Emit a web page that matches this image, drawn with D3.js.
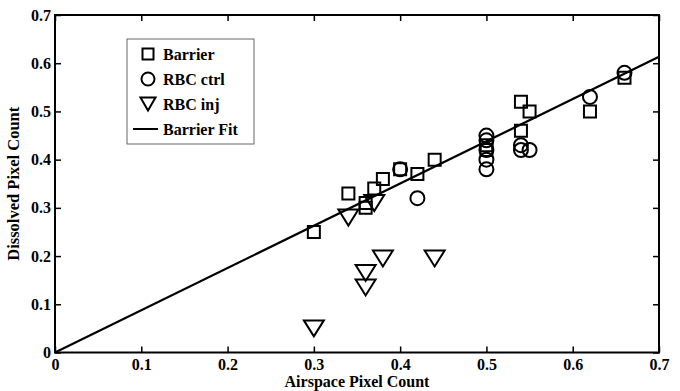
<!DOCTYPE html>
<html>
<head>
<meta charset="utf-8">
<script src="https://cdnjs.cloudflare.com/ajax/libs/d3/7.8.5/d3.min.js"></script>
<style>
  body { margin: 0; background: #fff; }
  text { font-family: "Liberation Serif", "Times New Roman", serif; font-weight: bold; }
</style>
</head>
<body>
<div id="chart"></div>
<script>
// chart size
var width = 680,
    height = 391;

var margin = { top: 15, right: 21, bottom: 38.5, left: 55 };

// tick values for both axes
var xTicks = [0, 0.1, 0.2, 0.3, 0.4, 0.5, 0.6, 0.7];
var yTicks = [0, 0.1, 0.2, 0.3, 0.4, 0.5, 0.6, 0.7];

// Barrier (squares)
var barrierX = [0.30, 0.34, 0.36, 0.36, 0.37, 0.38, 0.40, 0.42, 0.44, 0.50, 0.50, 0.54, 0.55, 0.54, 0.62, 0.66];
var barrierY = [0.25, 0.33, 0.30, 0.31, 0.34, 0.36, 0.38, 0.37, 0.40, 0.43, 0.42, 0.52, 0.50, 0.46, 0.50, 0.57];

// RBC ctrl (circles)
var ctrlX = [0.40, 0.42, 0.50, 0.50, 0.50, 0.50, 0.50, 0.54, 0.54, 0.55, 0.62, 0.66];
var ctrlY = [0.38, 0.32, 0.45, 0.44, 0.42, 0.40, 0.38, 0.43, 0.42, 0.42, 0.53, 0.58];

// RBC inj (triangles)
var injX = [0.30, 0.34, 0.36, 0.36, 0.37, 0.38, 0.44];
var injY = [0.05, 0.28, 0.165, 0.135, 0.31, 0.195, 0.195];

// Barrier fit, through the origin
var fitSlope = 0.876;

var legendItems = ["Barrier", "RBC ctrl", "RBC inj", "Barrier Fit"];

var svg = d3.select("#chart")
    .append("svg")
    .attr("width", width)
    .attr("height", height);

var w = width - margin.left - margin.right,
    h = height - margin.top - margin.bottom;

var g = svg.append("g")
    .attr("transform", "translate(" + margin.left + "," + margin.top + ")");

var x = d3.scaleLinear().domain([0, 0.7]).range([0, w]);
var y = d3.scaleLinear().domain([0, 0.7]).range([h, 0]);

var fmt = function(d) { return d === 0 ? "0" : d.toFixed(1); };

// axes with inward ticks
var xAxis = g.append("g")
    .attr("transform", "translate(0," + h + ")")
    .call(d3.axisBottom(x).tickValues(xTicks).tickFormat(fmt).tickSize(-6).tickSizeOuter(0).tickPadding(6));
var yAxis = g.append("g")
    .call(d3.axisLeft(y).tickValues(yTicks).tickFormat(fmt).tickSize(-6).tickSizeOuter(0).tickPadding(4));
// top and right ticks without labels
g.append("g")
    .call(d3.axisTop(x).tickValues(xTicks).tickFormat("").tickSize(-6).tickSizeOuter(0));
g.append("g")
    .attr("transform", "translate(" + w + ",0)")
    .call(d3.axisRight(y).tickValues(yTicks).tickFormat("").tickSize(-6).tickSizeOuter(0));

g.selectAll(".domain").remove();
g.selectAll(".tick line").attr("stroke", "#000").attr("stroke-width", 1.5);
g.selectAll(".tick text").attr("font-size", "16px").attr("fill", "#000")
    .attr("font-family", "Liberation Serif, Times New Roman, serif").attr("font-weight", "bold");

// frame
g.append("rect")
    .attr("width", w)
    .attr("height", h)
    .attr("fill", "none")
    .attr("stroke", "#000")
    .attr("stroke-width", 2);

// fit line
g.append("line")
    .attr("x1", x(0)).attr("y1", y(0))
    .attr("x2", x(0.7)).attr("y2", y(0.7 * fitSlope))
    .attr("stroke", "#000")
    .attr("stroke-width", 2.2);

// marker shapes
function squarePath(s) {
    var r = s / 2;
    return "M" + (-r) + "," + (-r) + "H" + r + "V" + r + "H" + (-r) + "Z";
}
function triPath(wd, ht) {
    return "M" + (-wd / 2) + "," + (-ht / 2) + "H" + (wd / 2) + "L0," + (ht / 2) + "Z";
}

var marks = g.append("g")
    .attr("fill", "none")
    .attr("stroke", "#000")
    .attr("stroke-width", 2);

marks.selectAll(".sq")
    .data(barrierX)
    .enter().append("path")
    .attr("class", "sq")
    .attr("d", squarePath(12))
    .attr("transform", function(d, i) { return "translate(" + x(d) + "," + y(barrierY[i]) + ")"; });

marks.selectAll(".ci")
    .data(ctrlX)
    .enter().append("circle")
    .attr("class", "ci")
    .attr("r", 7)
    .attr("cx", function(d) { return x(d); })
    .attr("cy", function(d, i) { return y(ctrlY[i]); });

marks.selectAll(".tri")
    .data(injX)
    .enter().append("path")
    .attr("class", "tri")
    .attr("d", triPath(20, 16))
    .attr("transform", function(d, i) { return "translate(" + x(d) + "," + y(injY[i]) + ")"; });

// axis titles
svg.append("text")
    .attr("x", margin.left + w / 2)
    .attr("y", 386.5)
    .attr("text-anchor", "middle")
    .attr("font-size", "16px")
    .text("Airspace Pixel Count");

svg.append("text")
    .attr("transform", "translate(19," + (margin.top + h / 2) + ") rotate(-90)")
    .attr("text-anchor", "middle")
    .attr("font-size", "16.5px")
    .text("Dissolved Pixel Count");

// legend
var legend = svg.append("g").attr("transform", "translate(127,39)");
legend.append("rect")
    .attr("width", 127)
    .attr("height", 105)
    .attr("fill", "#fff")
    .attr("stroke", "#666")
    .attr("stroke-width", 1);

var rows = legend.selectAll(".legend")
    .data(legendItems)
    .enter().append("g")
    .attr("class", "legend")
    .attr("transform", function(d, i) { return "translate(21," + (15 + i * 25) + ")"; });

rows.append("path")
    .attr("d", function(d, i) {
        if (i === 0) return squarePath(11);
        if (i === 1) return "M-6.5,0A6.5,6.5 0 1,0 6.5,0A6.5,6.5 0 1,0 -6.5,0";
        if (i === 2) return triPath(15, 13);
        return "M-15,0H10";
    })
    .attr("fill", "none")
    .attr("stroke", "#000")
    .attr("stroke-width", 2);

rows.append("text")
    .attr("x", 15)
    .attr("y", 5.5)
    .attr("font-size", "16px")
    .text(function(d) { return d; });
</script>
</body>
</html>
